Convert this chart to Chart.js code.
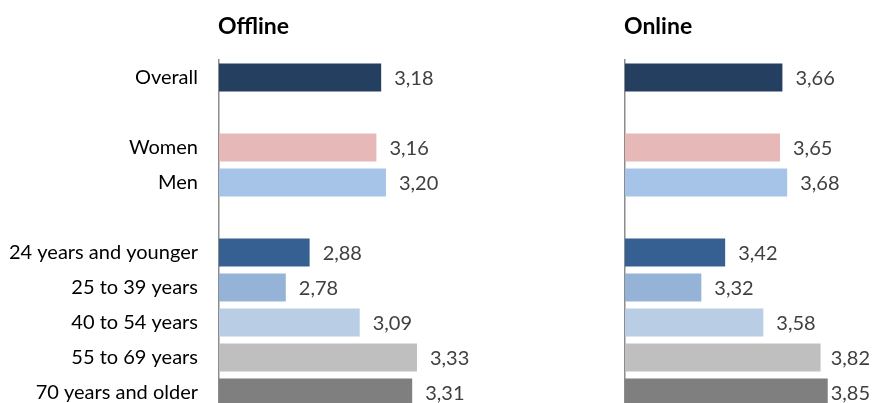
<!DOCTYPE html>
<html>
<head>
<meta charset="utf-8">
<script src="https://cdn.jsdelivr.net/npm/chart.js@4.4.0/dist/chart.umd.min.js"></script>
<style>
  html, body { margin: 0; padding: 0; background: #fff; overflow: hidden; }
  .panel { position: absolute; top: 0; height: 410px; }
  #offlineBox { left: 0; width: 500px; }
  #onlineBox { left: 560px; width: 313px; }
</style>
</head>
<body>
<div class="panel" id="offlineBox"><canvas id="offlineChart"></canvas></div>
<div class="panel" id="onlineBox"><canvas id="onlineChart"></canvas></div>
<script>
// Row labels, blank strings are the spacer rows
const groups = ['Overall', '', 'Women', 'Men', '', '24 years and younger', '25 to 39 years', '40 to 54 years', '55 to 69 years', '70 years and older'];
const offlineValues = [3.18, null, 3.16, 3.20, null, 2.88, 2.78, 3.09, 3.33, 3.31];
const onlineValues = [3.66, null, 3.65, 3.68, null, 3.42, 3.32, 3.58, 3.82, 3.85];
const barColors = ['#243F60', null, '#E6B9B8', '#A6C4E8', null, '#376092', '#95B3D7', '#B9CDE5', '#BFBFBF', '#7F7F7F'];

const FONT = 'Lato, "Open Sans", sans-serif';

// Draws panel heading and the value labels next to each bar
const labelPlugin = {
    id: 'barLabels',
    afterDatasetsDraw(chart, args, opts) {
        const ctx = chart.ctx;
        const area = chart.chartArea;
        ctx.save();
        ctx.font = 'bold 23px ' + FONT;
        ctx.fillStyle = '#000';
        ctx.textAlign = 'left';
        ctx.textBaseline = 'middle';
        ctx.fillText(opts.heading, area.left - 1, 27);

        ctx.font = '20px ' + FONT;
        ctx.fillStyle = '#404040';
        const meta = chart.getDatasetMeta(0);
        const values = chart.data.datasets[0].data;
        meta.data.forEach((bar, i) => {
            if (values[i] == null) return;
            const text = values[i].toFixed(2).replace('.', ',');
            const w = ctx.measureText(text).width;
            const x = Math.min(bar.x + 13, chart.width - w - 3);
            ctx.fillText(text, x, bar.y + 1);
        });
        ctx.restore();
    }
};

function makePanel(canvasId, values, min, max, axisWidth, padRight, heading, showLabels) {
    return new Chart(document.getElementById(canvasId), {
        type: 'bar',
        data: {
            labels: groups,
            datasets: [{
                data: values,
                backgroundColor: barColors,
                barPercentage: 0.8,
                categoryPercentage: 1.0
            }]
        },
        options: {
            indexAxis: 'y',
            responsive: true,
            maintainAspectRatio: false,
            animation: false,
            layout: { padding: { top: 60, bottom: 0, left: 0, right: padRight } },
            plugins: {
                legend: { display: false },
                tooltip: { enabled: false },
                barLabels: { heading: heading }
            },
            scales: {
                x: { display: false, min: min, max: max },
                y: {
                    grid: { display: false, drawTicks: false },
                    border: { display: true, color: '#8C8C8C', width: 1.5 },
                    ticks: {
                        display: showLabels,
                        color: '#000',
                        padding: 21,
                        font: { family: FONT, size: 20 }
                    },
                    afterFit(scale) {
                        scale.width = axisWidth;
                        scale.paddingTop = 0;
                        scale.paddingBottom = 0;
                    }
                }
            }
        },
        plugins: [labelPlugin]
    });
}

makePanel('offlineChart', offlineValues, 2.5, 3.5, 219, 42.5, 'Offline', true);
makePanel('onlineChart', onlineValues, 3.0, 4.0, 65, 9.5, 'Online', false);
</script>
</body>
</html>
